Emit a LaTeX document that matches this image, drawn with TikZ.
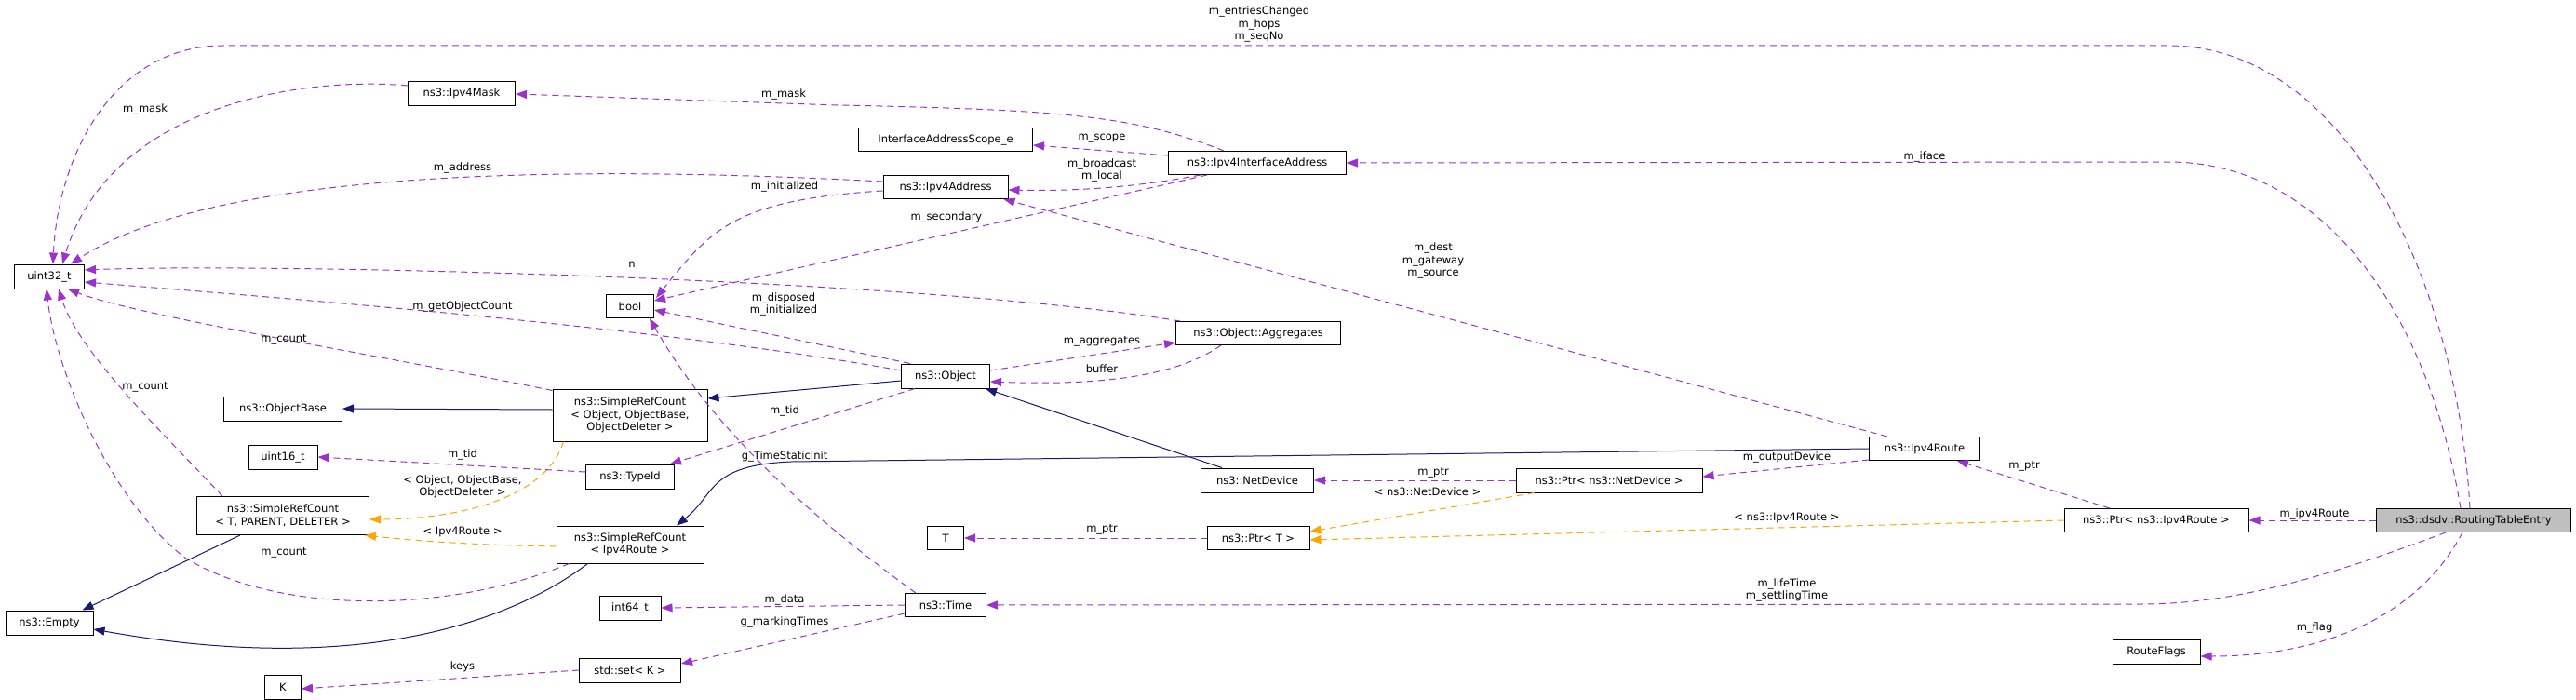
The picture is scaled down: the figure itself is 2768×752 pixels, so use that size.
\documentclass[tikz,border=0pt]{standalone}
\usepackage{fontspec}
\setmainfont{DejaVu Sans}
\usetikzlibrary{arrows.meta,calc}
\definecolor{pu}{HTML}{9A32CD}
\definecolor{bl}{HTML}{191970}
\definecolor{or}{HTML}{FFA500}
\begin{document}
\begin{tikzpicture}[x=1pt,y=-1pt,
  box/.style={draw=black,line width=1pt,fill=white,inner sep=0pt,align=center,font=\fontsize{11.5}{13.5}\selectfont},
  lbl/.style={inner sep=0pt,align=center,font=\fontsize{11.5}{13.5}\selectfont},
  mem/.style={draw=pu,line width=1pt,dash pattern=on 7pt off 5pt,-{Triangle[length=12pt,width=9pt]},shorten >=0pt},
  inh/.style={draw=bl,line width=1pt,-{Triangle[length=12pt,width=9pt]}},
  tpl/.style={draw=or,line width=1pt,dash pattern=on 7pt off 5pt,-{Triangle[length=12pt,width=9pt]}}]
\useasboundingbox (0,0) rectangle (2768,752);
\fill[white] (0,0) rectangle (2768,752);
% nodes
\node[box,minimum width=75pt,minimum height=26pt] (uint32) at (53,297) {uint32\_t};
\node[box,minimum width=115pt,minimum height=26pt] (mask) at (496,100) {ns3::Ipv4Mask};
\node[box,minimum width=187pt,minimum height=25pt] (scope) at (1016,150) {InterfaceAddressScope\_e};
\node[box,minimum width=191pt,minimum height=25pt] (ia) at (1351,175) {ns3::Ipv4InterfaceAddress};
\node[box,minimum width=134pt,minimum height=25pt] (addr) at (1016,201) {ns3::Ipv4Address};
\node[box,minimum width=51pt,minimum height=25pt] (bool) at (677,329) {bool};
\node[box,minimum width=177pt,minimum height=25pt] (agg) at (1352,358) {ns3::Object::Aggregates};
\node[box,minimum width=95pt,minimum height=26pt] (obj) at (1016,404) {ns3::Object};
\node[box,minimum width=127pt,minimum height=26pt] (obase) at (304,439) {ns3::ObjectBase};
\node[box,minimum width=166pt,minimum height=56pt] (srco) at (677,446) {ns3::SimpleRefCount\\{}< Object, ObjectBase,\\ObjectDeleter >};
\node[box,minimum width=74pt,minimum height=26pt] (u16) at (304,491) {uint16\_t};
\node[box,minimum width=95pt,minimum height=26pt] (typeid) at (677,512) {ns3::TypeId};
\node[box,minimum width=185pt,minimum height=41pt] (srct) at (304,554) {ns3::SimpleRefCount\\{}< T, PARENT, DELETER >};
\node[box,minimum width=158pt,minimum height=40pt] (srci) at (677,585) {ns3::SimpleRefCount\\{}< Ipv4Route >};
\node[box,minimum width=94pt,minimum height=26pt] (empty) at (53,669) {ns3::Empty};
\node[box,minimum width=66pt,minimum height=26pt] (int64) at (677,653) {int64\_t};
\node[box,minimum width=109pt,minimum height=26pt] (set) at (677,720) {std::set< K >};
\node[box,minimum width=39pt,minimum height=26pt] (K) at (304,738) {K};
\node[box,minimum width=39pt,minimum height=25pt] (T) at (1016,578) {T};
\node[box,minimum width=110pt,minimum height=25pt] (ptrt) at (1352,578) {ns3::Ptr< T >};
\node[box,minimum width=121pt,minimum height=26pt] (netdev) at (1351,516) {ns3::NetDevice};
\node[box,minimum width=87pt,minimum height=25pt] (time) at (1016,650) {ns3::Time};
\node[box,minimum width=200pt,minimum height=26pt] (ptrnd) at (1729,516) {ns3::Ptr< ns3::NetDevice >};
\node[box,minimum width=119pt,minimum height=25pt] (route) at (2068,482) {ns3::Ipv4Route};
\node[box,minimum width=198pt,minimum height=25pt] (ptrr) at (2317,559) {ns3::Ptr< ns3::Ipv4Route >};
\node[box,minimum width=209pt,minimum height=25pt,fill={rgb,255:red,191;green,191;blue,191}] (rte) at (2658,559) {ns3::dsdv::RoutingTableEntry};
\node[box,minimum width=94pt,minimum height=26pt] (flags) at (2317,700) {RouteFlags};
% edges
\draw[mem] ($(rte.north)+(-4,0)$) .. controls (2640,300) and (2520,49) .. (2330,49) -- (240,49) .. controls (120,49) and (62,170) .. ($(uint32.north)+(4,0)$);
\draw[mem] ($(rte.north)+(-14,0)$) .. controls (2610,340) and (2500,174) .. (2330,174) -- (ia.east);
\draw[mem] (rte.west) -- (ptrr.east);
\draw[mem] ($(rte.south)+(-30,0)$) .. controls (2500,620) and (2400,649) .. (2300,649) -- (time.east);
\draw[mem] ($(rte.south)+(-12,0)$) .. controls (2600,660) and (2500,705) .. ($(flags.east)+(0,5)$);
\draw[mem] ($(ptrr.north)+(-50,0)$) -- ($(route.south east)+(-25,0)$);
\draw[tpl] (ptrr.west) -- ($(ptrt.east)+(0,2)$);
\draw[tpl] ($(ptrnd.south west)+(20,0)$) -- ($(ptrt.east)+(0,-7)$);
\draw[mem] (ptrnd.west) -- (netdev.east);
\draw[mem] ($(route.south west)+(0,-1)$) -- ($(ptrnd.east)+(0,-4)$);
\draw[mem] ($(route.north)+(-40,0)$) -- ($(addr.south east)+(-5,0)$);
\draw[mem] ($(ia.south west)+(35,0)$) .. controls (1200,205) and (1130,205) .. ($(addr.east)+(0,3)$);
\draw[mem] ($(ia.west)+(0,-8)$) -- ($(scope.east)+(0,6)$);
\draw[mem] ($(ia.north west)+(60,0)$) .. controls (1220,125) and (1150,118) .. (900,113) -- ($(mask.east)+(0,1)$);
\draw[mem] ($(ia.south west)+(42,0)$) -- ($(bool.east)+(0,-6)$);
\draw[mem] ($(mask.west)+(0,-8)$) .. controls (330,82) and (120,110) .. ($(uint32.north)+(14,0)$);
\draw[mem] ($(addr.west)+(0,-6)$) .. controls (700,182) and (250,170) .. ($(uint32.north east)+(-15,0)$);
\draw[mem] ($(addr.west)+(0,4)$) .. controls (790,215) and (765,245) .. ($(bool.north east)+(2,4)$);
\draw[mem] ($(agg.north west)+(5,0)$) .. controls (1000,300) and (300,282) .. ($(uint32.east)+(0,-7)$);
\draw[mem] ($(obj.west)+(0,-6)$) .. controls (700,350) and (300,320) .. ($(uint32.east)+(0,6)$);
\draw[mem] ($(obj.north west)+(10,0)$) -- ($(bool.east)+(0,4)$);
\draw[mem] ($(obj.east)+(0,-6)$) -- ($(agg.south west)+(0,-3)$);
\draw[mem] ($(agg.south)+(-40,0)$) .. controls (1270,400) and (1200,415) .. ($(obj.east)+(0,6)$);
\draw[inh] ($(obj.west)+(0,5)$) -- ($(srco.east)+(0,-18)$);
\draw[inh] ($(srco.west)+(0,-6)$) -- (obase.east);
\draw[mem] ($(srco.north west)+(0,2)$) .. controls (400,380) and (150,340) .. ($(uint32.south east)+(-18,0)$);
\draw[tpl] ($(srco.south west)+(12,0)$) .. controls (585,540) and (480,558) .. ($(srct.east)+(0,4)$);
\draw[tpl] ($(srci.west)+(0,2)$) .. controls (480,585) and (420,578) .. ($(srct.south east)+(-5,0)$);
\draw[mem] ($(srct.north)+(-65,0)$) .. controls (180,470) and (85,380) .. ($(uint32.south)+(10,0)$);
\draw[mem] ($(srci.south west)+(14,0)$) .. controls (480,660) and (300,660) .. (200,600) .. controls (120,540) and (60,400) .. ($(uint32.south)+(-3,0)$);
\draw[inh] ($(srct.south west)+(47,0)$) -- ($(empty.north east)+(-12,0)$);
\draw[inh] ($(srci.south west)+(34,0)$) .. controls (560,660) and (400,730) .. ($(empty.east)+(0,7)$);
\draw[inh] (route.west) -- (850,496) .. controls (760,500) and (770,530) .. ($(srci.north)+(50,0)$);
\draw[inh] ($(netdev.north)+(-38,0)$) -- ($(obj.south east)+(-5,0)$);
\draw[mem] ($(obj.south west)+(15,0)$) -- ($(typeid.north east)+(-5,0)$);
\draw[mem] ($(typeid.west)+(0,-5)$) -- (u16.east);
\draw[mem] ($(time.north west)+(12,0)$) .. controls (850,540) and (760,450) .. ($(bool.south east)+(-5,0)$);
\draw[mem] (time.west) -- (int64.east);
\draw[mem] ($(time.south west)+(0,-4)$) -- ($(set.east)+(0,-7)$);
\draw[mem] (set.west) -- ($(K.east)+(0,2)$);
\draw[mem] (ptrt.west) -- (T.east);
% labels
\node[lbl] (l1) at (1353,26) {m\_entriesChanged\\m\_hops\\m\_seqNo};
\node[lbl] (l2) at (2068,168) {m\_iface};
\node[lbl] (l3) at (2487,552) {m\_ipv4Route};
\node[lbl] (l4) at (1920,634) {m\_lifeTime\\m\_settlingTime};
\node[lbl] (l5) at (2487,674) {m\_flag};
\node[lbl] (l6) at (2175,501) {m\_ptr};
\node[lbl] (l7) at (1920,556) {< ns3::Ipv4Route >};
\node[lbl] (l8) at (1534,528) {< ns3::NetDevice >};
\node[lbl] (l9) at (1540,508) {m\_ptr};
\node[lbl] (l10) at (1920,491) {m\_outputDevice};
\node[lbl] (l11) at (1540,280) {m\_dest\\m\_gateway\\m\_source};
\node[lbl] (l12) at (1184,183) {m\_broadcast\\m\_local};
\node[lbl] (l13) at (1184,149) {m\_scope};
\node[lbl] (l14) at (842,101) {m\_mask};
\node[lbl] (l15) at (1017,233) {m\_secondary};
\node[lbl] (l16) at (156,117) {m\_mask};
\node[lbl] (l17) at (497,180) {m\_address};
\node[lbl] (l18) at (843,200) {m\_initialized};
\node[lbl] (l19) at (679,284) {n};
\node[lbl] (l20) at (497,329) {m\_getObjectCount};
\node[lbl] (l21) at (842,327) {m\_disposed\\m\_initialized};
\node[lbl] (l22) at (1184,367) {m\_aggregates};
\node[lbl] (l23) at (1184,396) {buffer};
\node[lbl] (l24) at (305,365) {m\_count};
\node[lbl] (l25) at (156,416) {m\_count};
\node[lbl] (l26) at (843,441) {m\_tid};
\node[lbl] (l27) at (497,488) {m\_tid};
\node[lbl] (l28) at (843,490) {g\_TimeStaticInit};
\node[lbl] (l29) at (497,523) {< Object, ObjectBase,\\ObjectDeleter >};
\node[lbl] (l30) at (497,571) {< Ipv4Route >};
\node[lbl] (l31) at (305,594) {m\_count};
\node[lbl] (l32) at (843,644) {m\_data};
\node[lbl] (l33) at (843,668) {g\_markingTimes};
\node[lbl] (l34) at (497,716) {keys};
\node[lbl] (l35) at (1184,569) {m\_ptr};
\end{tikzpicture}
\end{document}
